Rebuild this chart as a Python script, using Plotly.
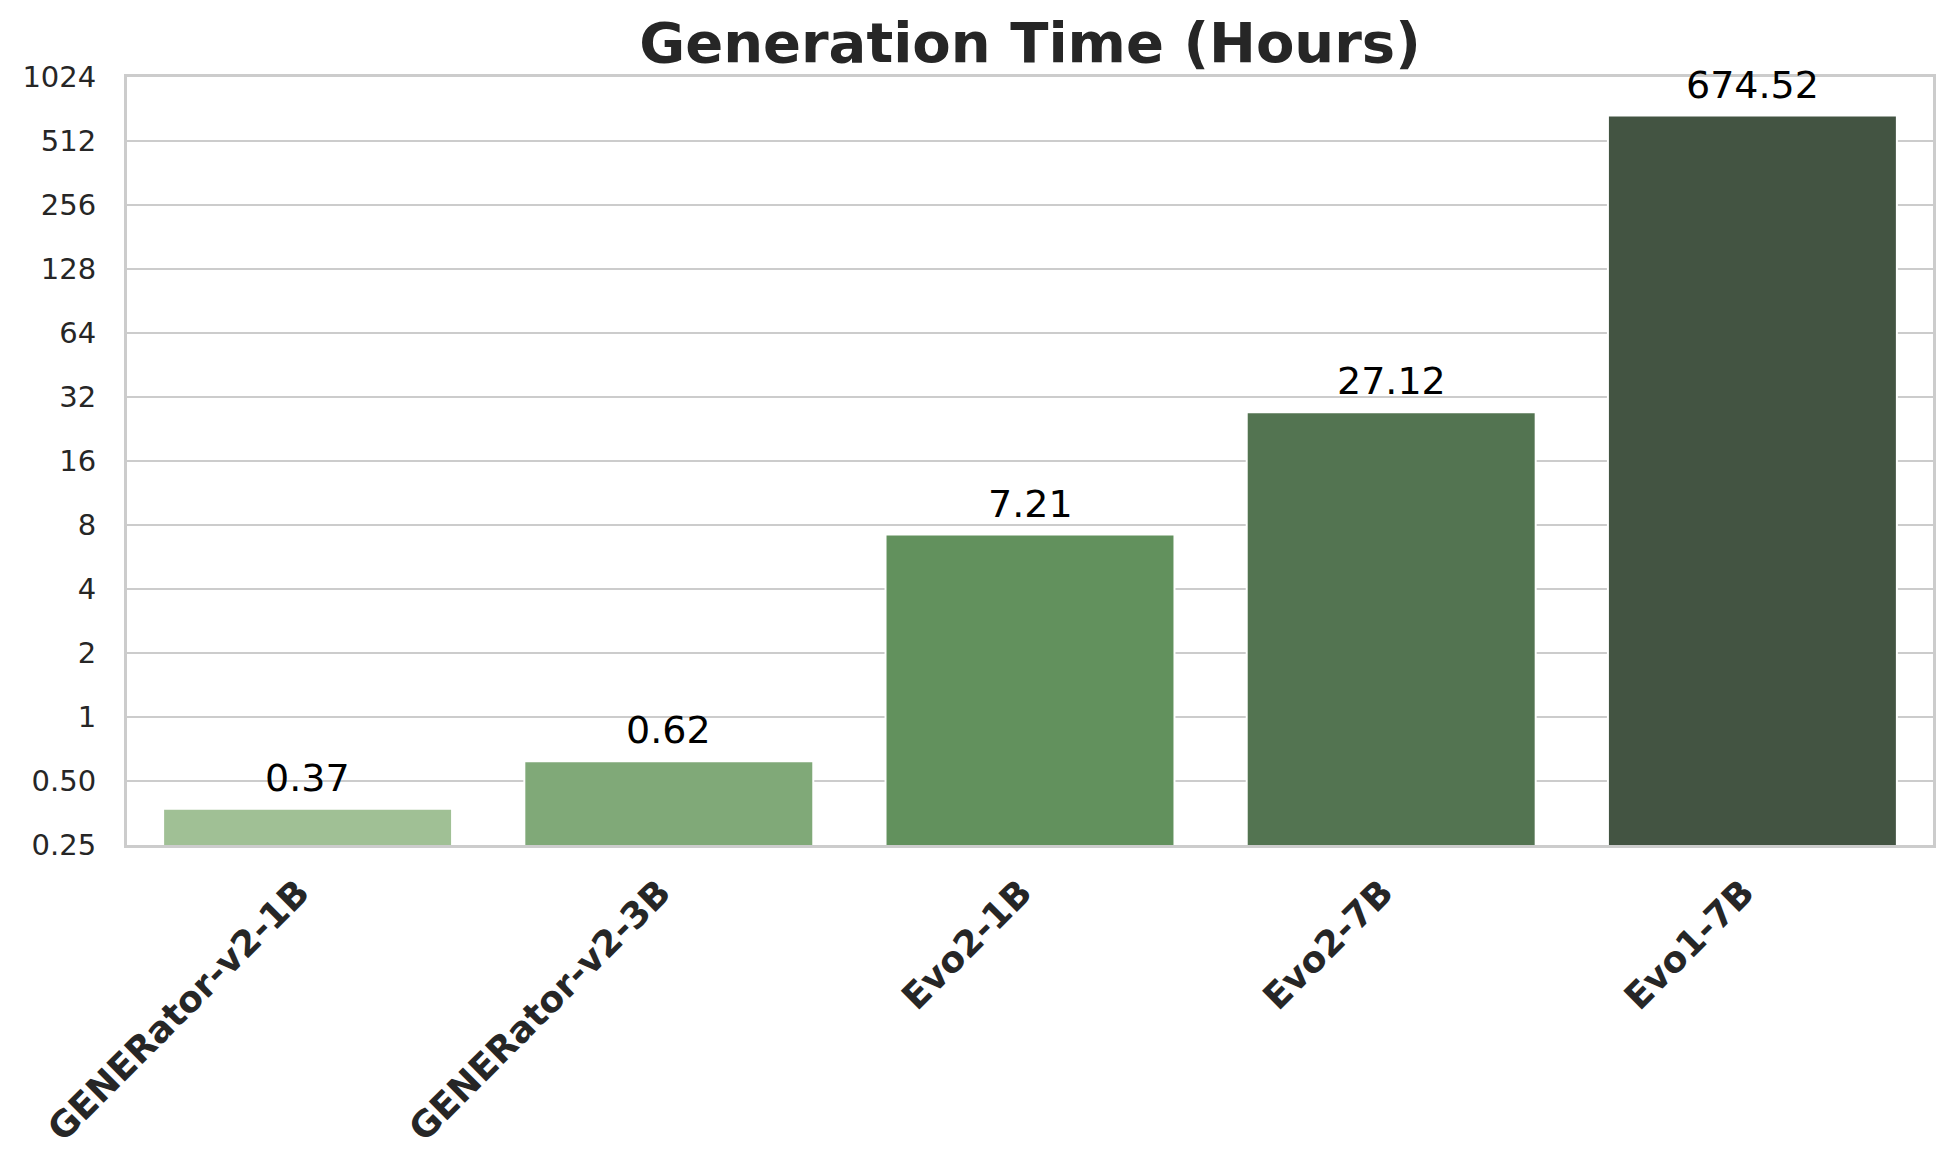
import plotly.graph_objects as go
import math

# data
models = ["GENERator-v2-1B", "GENERator-v2-3B", "Evo2-1B", "Evo2-7B", "Evo1-7B"]
hours = [0.37, 0.62, 7.21, 27.12, 674.52]
bar_colors = ["#a0c095", "#80a978", "#62915d", "#537451", "#435442"]
ytick_vals = [0.25, 0.5, 1, 2, 4, 8, 16, 32, 64, 128, 256, 512, 1024]
ytick_text = ["0.25", "0.50", "1", "2", "4", "8", "16", "32", "64", "128", "256", "512", "1024"]

FONT = "DejaVu Sans"
GRID = "#cccccc"
TXT = "#262626"

# page body has an 8px margin, so the figure is a bit smaller than the window
W, H = 1937, 1150

fig = go.Figure()
fig.add_trace(go.Bar(
    x=models, y=hours,
    marker=dict(color=bar_colors, line=dict(color="white", width=2)),
    width=0.8, showlegend=False, hoverinfo="x+y",
))

# value labels above bars
for m, h in zip(models, hours):
    fig.add_annotation(x=m, y=math.log10(h), text=f"{h:.2f}", showarrow=False,
                       yanchor="bottom", yshift=7,
                       font=dict(family=FONT, size=38, color="black"))

fig.update_layout(
    width=W, height=H,
    margin=dict(l=119, r=9, t=69, b=313),
    paper_bgcolor="white", plot_bgcolor="white",
    title=dict(text="<b>Generation Time (Hours)</b>", x=0.5, xref="paper",
               y=1 - 34 / H, yref="container", yanchor="middle", xanchor="center",
               font=dict(family=FONT, size=56, color=TXT)),
    font=dict(family=FONT, color=TXT),
)
fig.update_xaxes(
    range=[-0.5, 4.5], tickangle=-45, showgrid=False,
    tickvals=models, ticktext=[m + "\u00a0" for m in models],
    tickfont=dict(family=FONT, size=36, color=TXT, weight="bold"),
    showline=True, mirror=True, linecolor=GRID, linewidth=3, ticks="",
    ticklabelstandoff=0,
)
fig.update_yaxes(
    type="log", range=[math.log10(0.25), math.log10(1024)],
    tickvals=ytick_vals, ticktext=ytick_text,
    tickfont=dict(family=FONT, size=29, color=TXT),
    showgrid=True, gridcolor=GRID, gridwidth=2,
    showline=True, mirror=True, linecolor=GRID, linewidth=3, ticks="",
    zeroline=False, ticklabelstandoff=22,
)

fig.write_html("out.html")
